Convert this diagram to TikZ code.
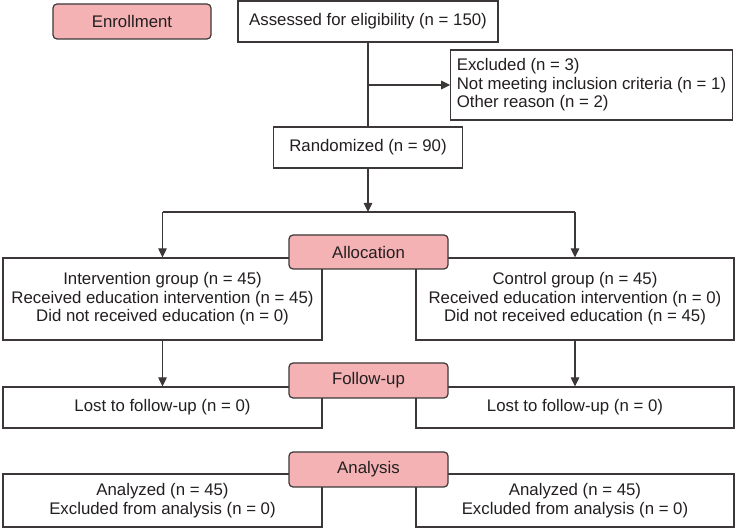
\documentclass[tikz,border=0pt]{standalone}
\usepackage{fontspec}
\setmainfont{Liberation Sans}
\usetikzlibrary{arrows.meta,calc}
\definecolor{StageClr}{RGB}{244,178,180}
\definecolor{LineClr}{RGB}{60,56,56}
\definecolor{TextClr}{RGB}{35,31,32}

\begin{document}
\begin{tikzpicture}[x=1pt,y=-1pt,
  font=\fontsize{16.8}{18.6}\selectfont,
  box/.style={draw=LineClr,line width=1.2pt,fill=white,inner sep=0pt,align=center,text=TextClr},
  stage/.style={box,fill=StageClr,rounded corners=4pt,minimum width=159pt,minimum height=35pt},
  flow/.style={draw=LineClr,line width=1.2pt},
  arr/.style={flow,-{Triangle[width=8.5pt,length=9pt]}}]

\useasboundingbox (0,0) rectangle (737,529);

% boxes
\node[box,minimum width=260pt,minimum height=41pt] (assess) at (368,21.5) {Assessed for eligibility (n = 150)};
\node[box,align=left,inner xsep=6pt,minimum width=281pt,minimum height=70pt] (excl) at (591.5,85)
  {Excluded (n = 3)\\Not meeting inclusion criteria (n = 1)\\Other reason (n = 2)};
\node[box,minimum width=189pt,minimum height=41pt] (rand) at (368,147.5) {Randomized (n = 90)};

\node[box,minimum width=319pt,minimum height=82pt] (intv) at (162.5,299)
  {Intervention group (n = 45)\\Received education intervention (n = 45)\\Did not received education (n = 0)};
\node[box,minimum width=318pt,minimum height=82pt] (ctrl) at (575,299)
  {Control group (n = 45)\\Received education intervention (n = 0)\\Did not received education (n = 45)};

\node[box,minimum width=319pt,minimum height=41pt] (lostL) at (162.5,407.5) {Lost to follow-up (n = 0)};
\node[box,minimum width=318pt,minimum height=41pt] (lostR) at (575,407.5) {Lost to follow-up (n = 0)};

\node[box,minimum width=319pt,minimum height=53pt] (anL) at (162.5,500.5) {Analyzed (n = 45)\\Excluded from analysis (n = 0)};
\node[box,minimum width=318pt,minimum height=53pt] (anR) at (575,500.5) {Analyzed (n = 45)\\Excluded from analysis (n = 0)};

% connectors
\coordinate (jx) at (368,85);
\coordinate (split) at (368,212);

\draw[flow] (assess) -- (rand);
\draw[arr] (jx) -- (excl.west);
\draw[arr] (rand) -- (split);
\draw[flow] (intv.north |- split) -- (ctrl.north |- split);
\draw[arr] (intv.north |- split) -- (intv.north);
\draw[arr] (ctrl.north |- split) -- (ctrl.north);
\draw[arr] (intv) -- (lostL.north);
\draw[arr] (ctrl) -- (lostR.north);

% stages
\node[stage,minimum width=158pt] (enroll) at (132,21.5) {Enrollment};
\node[stage,minimum height=34pt] (alloc) at (368.5,252) {Allocation};
\node[stage] (follow) at (368.5,380.5) {Follow-up};
\node[stage] (analysis) at (368.5,469.5) {Analysis};

\end{tikzpicture}
\end{document}
